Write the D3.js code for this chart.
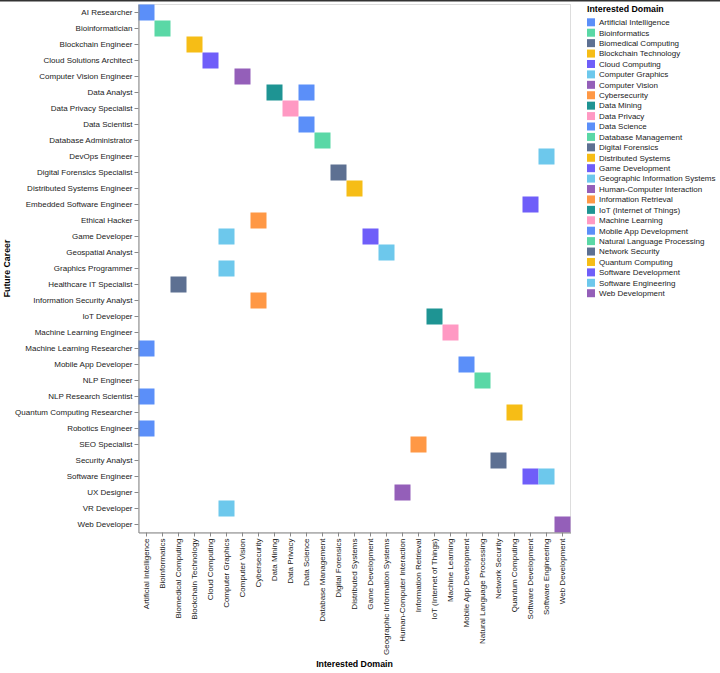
<!DOCTYPE html>
<html>
<head>
<meta charset="utf-8">
<script src="https://cdn.jsdelivr.net/npm/d3@7"></script>
<style>
  html, body { margin: 0; padding: 0; background: #fff; }
  svg { display: block; font-family: "Liberation Sans", Arial, sans-serif; }
</style>
</head>
<body>
<svg id="chart" width="720" height="673"></svg>
<script>
const careers = [
  "AI Researcher","Bioinformatician","Blockchain Engineer","Cloud Solutions Architect",
  "Computer Vision Engineer","Data Analyst","Data Privacy Specialist","Data Scientist",
  "Database Administrator","DevOps Engineer","Digital Forensics Specialist",
  "Distributed Systems Engineer","Embedded Software Engineer","Ethical Hacker",
  "Game Developer","Geospatial Analyst","Graphics Programmer","Healthcare IT Specialist",
  "Information Security Analyst","IoT Developer","Machine Learning Engineer",
  "Machine Learning Researcher","Mobile App Developer","NLP Engineer",
  "NLP Research Scientist","Quantum Computing Researcher","Robotics Engineer",
  "SEO Specialist","Security Analyst","Software Engineer","UX Designer",
  "VR Developer","Web Developer"
];

const domains = [
  "Artificial Intelligence","Bioinformatics","Biomedical Computing","Blockchain Technology",
  "Cloud Computing","Computer Graphics","Computer Vision","Cybersecurity","Data Mining",
  "Data Privacy","Data Science","Database Management","Digital Forensics",
  "Distributed Systems","Game Development","Geographic Information Systems",
  "Human-Computer Interaction","Information Retrieval","IoT (Internet of Things)",
  "Machine Learning","Mobile App Development","Natural Language Processing",
  "Network Security","Quantum Computing","Software Development","Software Engineering",
  "Web Development"
];

// career -> domain pairs present in the chart
const pairCareers = [
  "AI Researcher","Bioinformatician","Blockchain Engineer","Cloud Solutions Architect",
  "Computer Vision Engineer","Data Analyst","Data Analyst","Data Privacy Specialist",
  "Data Scientist","Database Administrator","DevOps Engineer","Digital Forensics Specialist",
  "Distributed Systems Engineer","Embedded Software Engineer","Ethical Hacker",
  "Game Developer","Game Developer","Geospatial Analyst","Graphics Programmer",
  "Healthcare IT Specialist","Information Security Analyst","IoT Developer",
  "Machine Learning Engineer","Machine Learning Researcher","Mobile App Developer",
  "NLP Engineer","NLP Research Scientist","Quantum Computing Researcher",
  "Robotics Engineer","SEO Specialist","Security Analyst","Software Engineer",
  "Software Engineer","UX Designer","VR Developer","Web Developer"
];
const pairDomains = [
  "Artificial Intelligence","Bioinformatics","Blockchain Technology","Cloud Computing",
  "Computer Vision","Data Mining","Data Science","Data Privacy",
  "Data Science","Database Management","Software Engineering","Digital Forensics",
  "Distributed Systems","Software Development","Cybersecurity",
  "Computer Graphics","Game Development","Geographic Information Systems","Computer Graphics",
  "Biomedical Computing","Cybersecurity","IoT (Internet of Things)",
  "Machine Learning","Artificial Intelligence","Mobile App Development",
  "Natural Language Processing","Artificial Intelligence","Quantum Computing",
  "Artificial Intelligence","Information Retrieval","Network Security","Software Development",
  "Software Engineering","Human-Computer Interaction","Computer Graphics","Web Development"
];

const palette = ["#5B8FF9","#5AD8A6","#5D7092","#F6BD16","#6F5EF9",
                 "#6DC8EC","#945FB9","#FF9845","#1E9493","#FF99C3"];

const legendTitle = "Interested Domain";
const xTitle = "Interested Domain";
const yTitle = "Future Career";

const svg = d3.select("#chart");

// top dark border line as in reference
svg.append("rect").attr("x", 0).attr("y", 0).attr("width", 720).attr("height", 1.5).attr("fill", "#333");

const margin = {left: 138.5, top: 4.5};
const step = 16;
const W = domains.length * step;
const H = careers.length * step;
const labelSize = 8;
const titleSize = 8.8;

const x = d3.scaleBand().domain(domains).range([0, W]).padding(0);
const y = d3.scaleBand().domain(careers).range([0, H]).padding(0);
const color = d3.scaleOrdinal().domain(domains).range(palette);

const g = svg.append("g").attr("transform", `translate(${margin.left},${margin.top})`);

// plot border
g.append("rect").attr("x", 0).attr("y", 0).attr("width", W).attr("height", H)
  .attr("fill", "none").attr("stroke", "#ddd").attr("stroke-width", 1);

const data = pairCareers.map((c, i) => ({career: c, domain: pairDomains[i]}));

g.selectAll("rect.cell").data(data).join("rect")
  .attr("class", "cell")
  .attr("x", d => x(d.domain))
  .attr("y", d => y(d.career))
  .attr("width", x.bandwidth())
  .attr("height", y.bandwidth())
  .attr("fill", d => color(d.domain));

// axes
const yAxis = g.append("g").call(d3.axisLeft(y).tickSize(4).tickSizeOuter(0).tickPadding(2));
const xAxis = g.append("g").attr("transform", `translate(0,${H})`)
  .call(d3.axisBottom(x).tickSize(4).tickSizeOuter(0).tickPadding(2));

[xAxis, yAxis].forEach(a => {
  a.attr("font-size", labelSize).attr("font-family", "'Liberation Sans', Arial, sans-serif");
  a.select(".domain").attr("stroke", "#888");
  a.selectAll(".tick line").attr("stroke", "#888");
  a.selectAll(".tick text").attr("fill", "#222").attr("font-size", labelSize);
});

xAxis.selectAll(".tick text")
  .attr("transform", "rotate(-90)")
  .attr("text-anchor", "end")
  .attr("dy", "0.32em")
  .attr("x", -6)
  .attr("y", 0);

// axis titles
svg.append("text")
  .attr("x", margin.left + W / 2).attr("y", 667)
  .attr("text-anchor", "middle").attr("font-size", titleSize).attr("font-weight", "bold")
  .text(xTitle);

svg.append("text")
  .attr("transform", `translate(10,${margin.top + H / 2}) rotate(-90)`)
  .attr("text-anchor", "middle").attr("font-size", titleSize).attr("font-weight", "bold")
  .text(yTitle);

// legend
const lg = svg.append("g").attr("transform", "translate(587,0)");
lg.append("text").attr("x", 0).attr("y", 11.5).attr("font-size", titleSize).attr("font-weight", "bold").text(legendTitle);
const items = lg.selectAll("g.item").data(domains).join("g")
  .attr("class", "item")
  .attr("transform", (d, i) => `translate(0,${22.3 + i * 10.42})`);
items.append("rect").attr("x", 0).attr("y", -4).attr("width", 8).attr("height", 8)
  .attr("fill", d => color(d));
items.append("text").attr("x", 12).attr("y", 0).attr("dy", "0.35em")
  .attr("font-size", labelSize).attr("fill", "#222").text(d => d);
</script>
</body>
</html>
